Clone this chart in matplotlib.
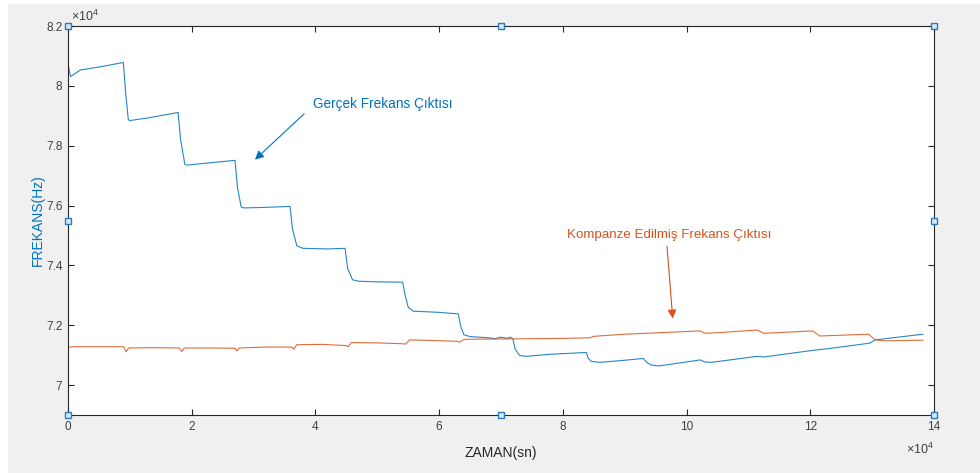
import matplotlib
matplotlib.use("Agg")
import matplotlib.pyplot as plt
from matplotlib.patches import Rectangle
from matplotlib.ticker import FuncFormatter, MultipleLocator

plt.rcParams['font.family'] = ['Liberation Sans', 'DejaVu Sans']
plt.rcParams['mathtext.fontset'] = 'custom'
plt.rcParams['mathtext.rm'] = 'Liberation Sans'

# time (x1e4 s) and frequency (x1e4 Hz) samples
gercek_t = [0, 0.04, 0.2, 0.5, 0.895, 0.93, 0.975, 1.0, 1.3, 1.78, 1.82, 1.89, 1.92,
            2.3, 2.7, 2.74, 2.8, 2.85, 3.2, 3.59, 3.63, 3.7, 3.8, 4.2, 4.48, 4.52,
            4.6, 4.7, 5.0, 5.41, 5.45, 5.5, 5.58, 6.0, 6.31, 6.35, 6.4, 6.5, 6.8,
            6.9, 7.0, 7.1, 7.15, 7.19, 7.23, 7.3, 7.4, 7.8, 8.38, 8.41, 8.46, 8.6,
            9.0, 9.3, 9.36, 9.43, 9.55, 10.22, 10.3, 10.4, 11.14, 11.25, 12.04,
            12.3, 12.96, 13.05, 13.82]
gercek_f = [8.073, 8.031, 8.053, 8.063, 8.078, 7.98, 7.887, 7.884, 7.893, 7.911, 7.82,
            7.737, 7.735, 7.743, 7.751, 7.66, 7.595, 7.592, 7.594, 7.597, 7.52,
            7.465, 7.457, 7.455, 7.457, 7.39, 7.352, 7.347, 7.345, 7.344, 7.30,
            7.26, 7.247, 7.243, 7.238, 7.195, 7.168, 7.162, 7.158, 7.155, 7.16,
            7.156, 7.16, 7.155, 7.12, 7.099, 7.096, 7.103, 7.109, 7.09, 7.079,
            7.076, 7.083, 7.089, 7.075, 7.067, 7.064, 7.084, 7.077, 7.076, 7.096,
            7.094, 7.116, 7.122, 7.14, 7.151, 7.17]

kompanze_t = [0, 0.05, 0.5, 0.9, 0.94, 0.98, 1.4, 1.8, 1.84, 1.88, 2.3, 2.7, 2.73,
              2.77, 3.2, 3.62, 3.65, 3.7, 4.1, 4.5, 4.53, 4.58, 5.0, 5.42, 5.46,
              5.52, 5.9, 6.3, 6.33, 6.4, 7.0, 8.0, 8.44, 8.5, 9.0, 9.89, 10.22,
              10.3, 10.5, 11.14, 11.25, 12.04, 12.15, 12.94, 13.05, 13.2, 13.82]
kompanze_f = [7.125, 7.128, 7.128, 7.128, 7.111, 7.124, 7.125, 7.124, 7.112, 7.124,
              7.124, 7.123, 7.114, 7.124, 7.127, 7.127, 7.12, 7.135, 7.136, 7.132,
              7.128, 7.142, 7.141, 7.138, 7.137, 7.151, 7.149, 7.146, 7.143, 7.153,
              7.154, 7.156, 7.158, 7.163, 7.17, 7.178, 7.181, 7.173, 7.175, 7.184,
              7.173, 7.181, 7.164, 7.17, 7.151, 7.148, 7.15]

SCALE = 1e4
BLUE = '#0072BD'
ORANGE = '#D95319'
GRAY = '#262626'
LABEL_GRAY = '#404040'

fig = plt.figure(figsize=(9.8, 4.73), dpi=100, facecolor='white')
fig.patches.append(Rectangle((8 / 980, 0), 1, 1 - 4 / 473, transform=fig.transFigure,
                             facecolor='#F0F0F0', edgecolor='none', zorder=-10))

ax = fig.add_axes([68 / 980, 1 - 415 / 473, 866 / 980, 389 / 473])
ax.plot([t * SCALE for t in gercek_t], [f * SCALE for f in gercek_f],
        color=BLUE, lw=0.8, alpha=0.85)
ax.plot([t * SCALE for t in kompanze_t], [f * SCALE for f in kompanze_f],
        color=ORANGE, lw=0.8, alpha=0.85)

ax.set_xlim(0, 14e4)
ax.set_ylim(6.9e4, 8.2e4)
ax.xaxis.set_major_locator(MultipleLocator(2e4))
ax.yaxis.set_major_locator(MultipleLocator(0.2e4))
fmt = FuncFormatter(lambda v, p: f"{v / SCALE:g}")
ax.xaxis.set_major_formatter(fmt)
ax.yaxis.set_major_formatter(fmt)
ax.tick_params(direction='in', top=True, right=True, length=4, width=0.8,
               colors=GRAY, labelcolor=LABEL_GRAY, labelsize=8.5, pad=4)
for s in ax.spines.values():
    s.set_color(GRAY)
    s.set_linewidth(0.8)

ax.set_xlabel('ZAMAN(sn)', fontsize=10, color=GRAY, labelpad=10)
ax.set_ylabel('FREKANS(Hz)', fontsize=10, color=BLUE, labelpad=1)

ax.text(0.003, 1.005, r'$\mathregular{\times10^{4}}$', transform=ax.transAxes,
        fontsize=9, color=LABEL_GRAY, ha='left', va='bottom')
ax.text(1.0, -0.07, r'$\mathregular{\times10^{4}}$', transform=ax.transAxes,
        fontsize=9, color=LABEL_GRAY, ha='right', va='top')

# annotations
ax.annotate('', xy=(2.99e4, 7.747e4), xytext=(3.85e4, 7.913e4),
            arrowprops=dict(arrowstyle='-|>', color=BLUE, lw=0.8, mutation_scale=13))
ax.text(3.96e4, 7.94e4, 'Gerçek Frekans Çıktısı', color=BLUE, fontsize=9.8,
        ha='left', va='center')
ax.annotate('', xy=(9.78e4, 7.213e4), xytext=(9.68e4, 7.473e4),
            arrowprops=dict(arrowstyle='-|>', color=ORANGE, lw=0.8, mutation_scale=13))
ax.text(9.72e4, 7.50e4, 'Kompanze Edilmiş Frekans Çıktısı', color=ORANGE, fontsize=9.6,
        ha='center', va='center')

# selection handles on the axes box
hx = [0, 0.5, 1, 0, 1, 0, 0.5, 1]
hy = [1, 1, 1, 0.5, 0.5, 0, 0, 0]
ax.plot(hx, hy, 's', transform=ax.transAxes, clip_on=False, ms=4.5,
        mfc='#d6e8f7', mec='#2b7bc0', mew=1.0, zorder=5)

fig.savefig('out.png', dpi=100, facecolor=fig.get_facecolor())
